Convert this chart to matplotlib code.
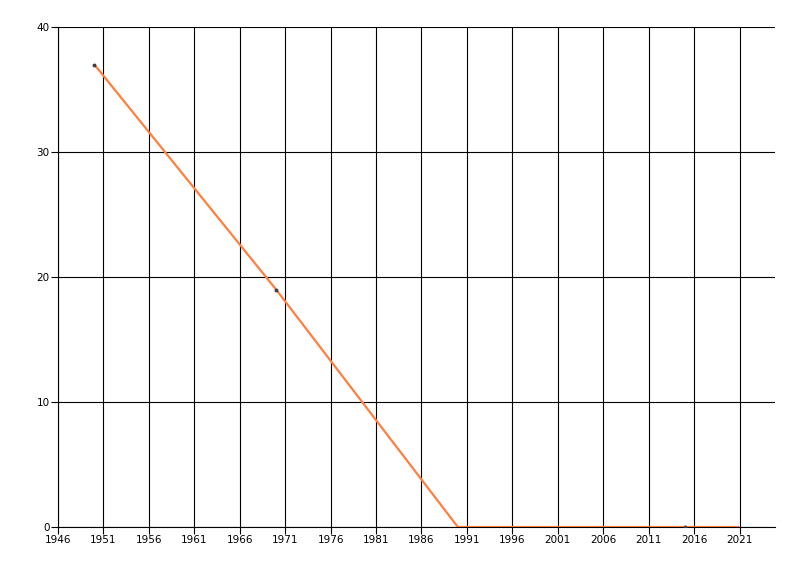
import matplotlib
matplotlib.use("Agg")
import matplotlib.pyplot as plt

# data
years = [1950, 1970, 1990, 2015, 2021]
values = [37, 19, 0, 0, 0]
marked_years = [1950, 1970, 2015]
marked_values = [37, 19, 0]

x_ticks = list(range(1946, 2022, 5))
y_ticks = [0, 10, 20, 30, 40]

fig = plt.figure(figsize=(8, 5.76), dpi=100)
ax = fig.add_axes([58 / 800, 1 - 527 / 576, (775 - 58) / 800, (527 - 27) / 576])

ax.plot(years, values, color="#FF7F3F", lw=1.6, solid_capstyle="butt", zorder=3)
ax.plot(marked_years, marked_values, ls="none", marker="o", ms=1.8,
        color="#404040", zorder=4)

ax.set_xlim(1946, 2024.9)
ax.set_ylim(0, 40)
ax.set_xticks(x_ticks)
ax.set_yticks(y_ticks)

# thin 1px black grid, like the original WinForms chart
ax.grid(True, color="black", lw=0.8)
ax.set_axisbelow(True)
for side in ("top", "right"):
    ax.spines[side].set_visible(False)
for side in ("left", "bottom"):
    ax.spines[side].set_color("black")
    ax.spines[side].set_linewidth(0.8)

ax.tick_params(axis="both", direction="out", length=5, width=0.8,
               labelsize=7.5, color="black", pad=1)

fig.savefig("out.png", dpi=100)
